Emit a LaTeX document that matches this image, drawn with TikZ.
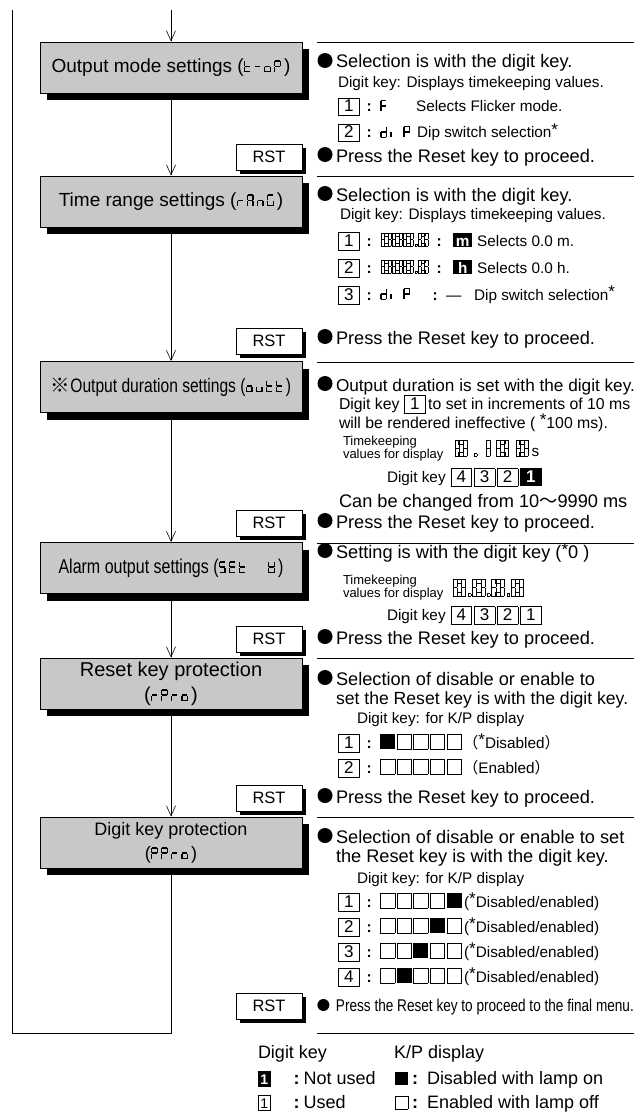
\documentclass[tikz,border=0pt]{standalone}
\usepackage{fontspec}
\usepackage{pict2e}
\setmainfont{Liberation Sans}
\newfontfamily\condfont[FakeStretch=0.8]{Liberation Sans}
\newfontfamily\jpfont{Noto Sans CJK JP}
\usetikzlibrary{arrows.meta,shadows}
\definecolor{boxgray}{RGB}{200,200,200}

% ---------- seven-segment glyphs ----------
\newlength\svh \setlength\svh{12pt}
\newif\ifsgout
\newcommand\sgseg[4]{\ifsgout\put(#1,#2){\framebox(#3,#4){}}\else\put(#1,#2){\rule{#3\unitlength}{#4\unitlength}}\fi}
\newcommand\sgparse[7]{%
 \ifsgout
 \ifnum#1=1 \sgseg{23}{78}{26}{22}\fi
 \ifnum#2=1 \sgseg{50}{51}{22}{49}\fi
 \ifnum#3=1 \sgseg{50}{0}{22}{49}\fi
 \ifnum#4=1 \sgseg{23}{0}{26}{22}\fi
 \ifnum#5=1 \sgseg{0}{0}{22}{49}\fi
 \ifnum#6=1 \sgseg{0}{51}{22}{49}\fi
 \ifnum#7=1 \sgseg{23}{39}{26}{22}\fi
 \else
 \ifnum#1=1 \sgseg{8}{88}{44}{12}\fi
 \ifnum#2=1 \sgseg{48}{53}{12}{42}\fi
 \ifnum#3=1 \sgseg{48}{5}{12}{42}\fi
 \ifnum#4=1 \sgseg{8}{0}{44}{12}\fi
 \ifnum#5=1 \sgseg{0}{5}{12}{42}\fi
 \ifnum#6=1 \sgseg{0}{53}{12}{42}\fi
 \ifnum#7=1 \sgseg{8}{44}{44}{12}\fi
 \fi}
\newcommand\svs[1]{{\setlength\unitlength{\dimexpr\svh/100\relax}\linethickness{0.35pt}\begin{picture}(84,100)\sgparse#1\end{picture}}}
\newcommand\ssZ{\svs{1111110}}
\newcommand\ssOne{\svs{0110000}}
\newcommand\ssT{\svs{0001111}}
\newcommand\ssDash{\svs{0000001}}
\newcommand\ssO{\svs{0011101}}
\newcommand\ssP{\svs{1100111}}
\newcommand\ssR{\svs{0000101}}
\newcommand\ssA{\svs{1110111}}
\newcommand\ssN{\svs{0010101}}
\newcommand\ssG{\svs{1011110}}
\newcommand\ssU{\svs{0011100}}
\newcommand\ssS{\svs{1011011}}
\newcommand\ssE{\svs{1001111}}
\newcommand\ssW{\svs{0111111}}
\newcommand\ssF{\svs{1000111}}
\newcommand\ssD{\svs{0111101}}
\newcommand\ssI{\svs{0000100}}
\newcommand\ssDot{{\setlength\unitlength{\dimexpr\svh/100\relax}\linethickness{0.35pt}\begin{picture}(30,100)\sgseg{6}{0}{14}{14}\end{picture}}}
\newcommand\ssSp{\hspace{0.8\svh}}

% ---------- other inline marks ----------
\newcommand\bul[1][15]{{\setlength\unitlength{\dimexpr #1pt/15\relax}\begin{picture}(19,0)\put(8,7.5){\circle*{15}}\end{picture}}}
\newcommand\cln{\makebox[19pt]{\bfseries :}}
\newcommand\astr{\raisebox{2.5pt}{\fontsize{17}{17}\selectfont *}}
\newcommand\kb[1]{{\setlength\fboxsep{0pt}\setlength\fboxrule{0.8pt}\fbox{\makebox[20pt]{\rule[-3.5pt]{0pt}{16.5pt}\fontsize{17}{17}\selectfont#1}}}}
\newcommand\kbb[1]{{\setlength\fboxsep{0pt}\colorbox{black}{\makebox[21.6pt]{\rule[-4.3pt]{0pt}{18.1pt}\color{white}\bfseries\fontsize{17}{17}\selectfont#1}}}}
\newcommand\kbs[1]{{\setlength\fboxsep{0pt}\setlength\fboxrule{0.6pt}\fbox{\makebox[11.5pt]{\rule[-2pt]{0pt}{14.5pt}\fontsize{14}{14}\selectfont#1}}}}
\newcommand\kbbs[1]{{\setlength\fboxsep{0pt}\colorbox{black}{\makebox[12.7pt]{\rule[-2.6pt]{0pt}{15.7pt}\color{white}\bfseries\fontsize{14}{14}\selectfont#1}}}}
\newcommand\rev[1]{{\setlength\fboxsep{0pt}\colorbox{black}{\makebox[19pt]{\rule[-1pt]{0pt}{14pt}\color{white}\bfseries#1}}}}
\newcommand\sqB[1]{\rule[-1pt]{#1}{#1}}
\newcommand\sqW[1]{{\setlength\fboxsep{0pt}\setlength\fboxrule{0.5pt}\fbox{\rule[-0.5pt]{0pt}{\dimexpr#1-1pt\relax}\hspace{\dimexpr#1-1pt\relax}}}}
\newcommand\sqbk{\sqB{15pt}\hspace{1.6pt}}
\newcommand\sqwt{\sqW{15pt}\hspace{1.6pt}}

\begin{document}
\begin{tikzpicture}[x=1pt,y=-1pt,
  mainbox/.style={draw=black, line width=0.9pt, fill=boxgray, minimum width=262pt, minimum height=51pt, inner sep=0pt, align=center,
    drop shadow={shadow xshift=7pt, shadow yshift=-7pt, opacity=1, fill=black}},
  rstbox/.style={draw=black, line width=0.8pt, fill=white, minimum width=66pt, minimum height=26pt, inner sep=0pt,
    font=\fontsize{16.5}{18}\selectfont, drop shadow={shadow xshift=4pt, shadow yshift=-4pt, opacity=1, fill=black}},
  flow/.style={line width=0.6pt, -{Straight Barb[length=10pt,width=9pt,line width=0.6pt]}},
  loopline/.style={line width=0.6pt},
  sepline/.style={line width=0.8pt},
  txt/.style={anchor=base west, inner sep=0pt, outer sep=0pt},
  fbig/.style={txt, font=\fontsize{18.2}{21}\selectfont},
  fmid/.style={txt, font=\fontsize{15.3}{18}\selectfont},
  fsmall/.style={txt, font=\fontsize{13}{14}\selectfont},
  fcond/.style={txt, font=\condfont\fontsize{17}{20}\selectfont},
  fleg/.style={txt, font=\fontsize{18}{22}\selectfont}
]
\path[use as bounding box, fill=white] (0,0) rectangle (634,1113);

% ---------- left column ----------
\node[mainbox, font=\fontsize{19}{22}\selectfont] (b1) at (171,67.5) {Output mode settings (\ssT\ssDash\ssO\ssP)};
\node[mainbox, font=\fontsize{19}{22}\selectfont] (b2) at (171,201.5) {Time range settings (\ssR\ssA\ssN\ssG)};
\node[mainbox, font=\condfont\fontsize{19.5}{22}\selectfont] (b3) at (171,387) {{\jpfont ※}Output duration settings (\ssO\ssU\ssT\ssT)};
\node[mainbox, font=\condfont\fontsize{20}{22}\selectfont] (b4) at (171,568) {Alarm output settings (\ssS\ssE\ssT\ssSp\ssSp\ssW)};
\node[mainbox, font=\fontsize{20}{25}\selectfont] (b5) at (171,683.5) {Reset key protection\\(\ssR\ssP\ssR\ssO)};
\node[mainbox, font=\fontsize{18}{24}\selectfont] (b6) at (171,842.5) {Digit key protection\\(\ssP\ssP\ssR\ssO)};

\node[rstbox] (r1) at (269,157) {RST};
\node[rstbox] (r2) at (269,341) {RST};
\node[rstbox] (r3) at (269,523) {RST};
\node[rstbox] (r4) at (269,639) {RST};
\node[rstbox] (r5) at (269,798) {RST};
\node[rstbox] (r6) at (269,1006) {RST};

\coordinate (top) at (171,10);
\coordinate (lb) at (12,1033);
\coordinate (lt) at (12,10);
\draw[flow] (top) -- (b1.north);
\draw[flow] (b1.south) -- (b2.north);
\draw[flow] (b2.south) -- (b3.north);
\draw[flow] (b3.south) -- (b4.north);
\draw[flow] (b4.south) -- (b5.north);
\draw[flow] (b5.south) -- (b6.north);
\draw[loopline] (b6.south) |- (lb) -- (lt);

% ---------- separators ----------
\foreach \yy in {42,176,362,543,658,817,1033} \draw[sepline] (317,\yy) -- (634,\yy);

% ---------- section 1 ----------
\node[fbig] (s1a) at (317,68) {\bul Selection is with the digit key.};
\node[fmid] (s1b) at (338,88) {Digit key: Displays timekeeping values.};
\node[fmid] (s1c) at (338,112) {\kb{1}\cln\hspace{1.5pt}\makebox[36pt][l]{\ssF}Selects Flicker mode.};
\node[fmid] (s1d) at (338,138) {\kb{2}\cln\hspace{1.5pt}\makebox[37pt][l]{\ssD\ssI\hspace{3pt}\ssP}Dip switch selection\astr};
\node[fbig] (s1e) at (317,162) {\bul Press the Reset key to proceed.};

% ---------- section 2 ----------
\node[fbig] (s2a) at (317,201) {\bul Selection is with the digit key.};
\node[fmid] (s2b) at (340,219) {Digit key: Displays timekeeping values.};
\node[fmid] (s2c) at (338,246) {\kb{1}\cln\hspace{3pt}{\setlength\svh{13pt}\sgouttrue\ssZ\ssZ\ssZ\ssDot\ssZ}\makebox[20pt]{\bfseries :}\hspace{4pt}\rev{m}\hspace{5pt}Selects 0.0 m.};
\node[fmid] (s2d) at (338,273) {\kb{2}\cln\hspace{3pt}{\setlength\svh{13pt}\sgouttrue\ssZ\ssZ\ssZ\ssDot\ssZ}\makebox[20pt]{\bfseries :}\hspace{4pt}\rev{h}\hspace{5pt}Selects 0.0 h.};
\node[fmid] (s2e) at (338,300) {\kb{3}\cln\hspace{1.5pt}\makebox[44pt][l]{\ssD\ssI\hspace{3pt}\ssP}\makebox[22pt]{\bfseries :}\makebox[28pt][l]{---}Dip switch selection\astr};
\node[fbig] (s2f) at (317,344) {\bul Press the Reset key to proceed.};

% ---------- section 3 ----------
\node[txt, font=\fontsize{17.2}{21}\selectfont] (s3a) at (317,391) {\bul Output duration is set with the digit key.};
\node[txt, font=\fontsize{15.8}{19}\selectfont] (s3b) at (339,409) {Digit key \kb{1}\,to set in increments of 10 ms};
\node[txt, font=\fontsize{15.8}{19}\selectfont] (s3c) at (339,428) {will be rendered ineffective ( \astr100 ms).};
\node[fsmall] (s3d) at (343,445) {Timekeeping};
\node[fsmall] (s3e) at (343,458) {values for display};
\node[fmid] (s3f) at (455,456) {{\setlength\svh{16pt}\sgouttrue\ssZ\hspace{5pt}\ssDot\hspace{0pt}\ssOne\hspace{5pt}\ssZ\hspace{6pt}\ssZ}\hspace{2pt}s};
\node[fmid] (s3g) at (387,482) {Digit key\hspace{5pt}\kb{4}\hspace{1.5pt}\kb{3}\hspace{1.5pt}\kb{2}\hspace{1.5pt}\kbb{1}};
\node[fbig] (s3h) at (339,507) {Can be changed from 10{\jpfont ～}9990 ms};
\node[fbig] (s3i) at (317,528) {\bul Press the Reset key to proceed.};

% ---------- section 4 ----------
\node[fbig] (s4a) at (317,558) {\bul Setting is with the digit key (\astr0 )};
\node[fsmall] (s4b) at (343,584) {Timekeeping};
\node[fsmall] (s4c) at (343,597) {values for display};
\node[fmid] (s4d) at (453,596) {{\setlength\svh{17pt}\sgouttrue\ssZ\ssDot\ssZ\ssDot\ssZ\ssDot\ssZ}};
\node[fmid] (s4e) at (387,620) {Digit key\hspace{5pt}\kb{4}\hspace{1.5pt}\kb{3}\hspace{1.5pt}\kb{2}\hspace{1.5pt}\kb{1}};
\node[fbig] (s4f) at (317,644) {\bul Press the Reset key to proceed.};

% ---------- section 5 ----------
\node[fbig] (s5a) at (317,685) {\bul Selection of disable or enable to};
\node[txt, font=\fontsize{17.6}{21}\selectfont] (s5b) at (336,704) {set the Reset key is with the digit key.};
\node[fmid] (s5c) at (357,723) {Digit key: for K/P display};
\node[fmid] (s5d) at (338,748) {\kb{1}\cln\hspace{1.5pt}\sqbk\sqwt\sqwt\sqwt\sqwt{\jpfont （}\astr Disabled{\jpfont ）}};
\node[fmid] (s5e) at (338,773) {\kb{2}\cln\hspace{1.5pt}\sqwt\sqwt\sqwt\sqwt\sqwt{\jpfont （}Enabled{\jpfont ）}};
\node[fbig] (s5f) at (317,803) {\bul Press the Reset key to proceed.};

% ---------- section 6 ----------
\node[fbig] (s6a) at (317,843) {\bul Selection of disable or enable to set};
\node[fbig] (s6b) at (336,862) {the Reset key is with the digit key.};
\node[fmid] (s6c) at (357,883) {Digit key: for K/P display};
\node[fmid] (s6d) at (338,907) {\kb{1}\cln\hspace{1.5pt}\sqwt\sqwt\sqwt\sqwt\sqbk\hspace{1pt}(\astr Disabled/enabled)};
\node[fmid] (s6e) at (338,932) {\kb{2}\cln\hspace{1.5pt}\sqwt\sqwt\sqwt\sqbk\sqwt\hspace{1pt}(\astr Disabled/enabled)};
\node[fmid] (s6f) at (338,957) {\kb{3}\cln\hspace{1.5pt}\sqwt\sqwt\sqbk\sqwt\sqwt\hspace{1pt}(\astr Disabled/enabled)};
\node[fmid] (s6g) at (338,982) {\kb{4}\cln\hspace{1.5pt}\sqwt\sqbk\sqwt\sqwt\sqwt\hspace{1pt}(\astr Disabled/enabled)};
\node[fcond] (s6h) at (317,1011) {\bul[12] Press the Reset key to proceed to the final menu.};

% ---------- legend ----------
\node[fleg] (lg1) at (258,1058) {Digit key};
\node[fleg] (lg2) at (394,1058) {K/P display};
\node[fleg] (lg3) at (258,1084) {\kbbs{1}\makebox[33pt][r]{\bfseries :\hspace{4pt}}Not used};
\node[fleg] (lg4) at (258,1108) {\kbs{1}\makebox[33pt][r]{\bfseries :\hspace{4pt}}Used};
\node[fleg] (lg5) at (395,1084) {\sqB{13pt}\makebox[19pt][l]{\hspace{4pt}\bfseries :}Disabled with lamp on};
\node[fleg] (lg6) at (395,1108) {\sqW{13pt}\makebox[19pt][l]{\hspace{4pt}\bfseries :}Enabled with lamp off};
\end{tikzpicture}
\end{document}
